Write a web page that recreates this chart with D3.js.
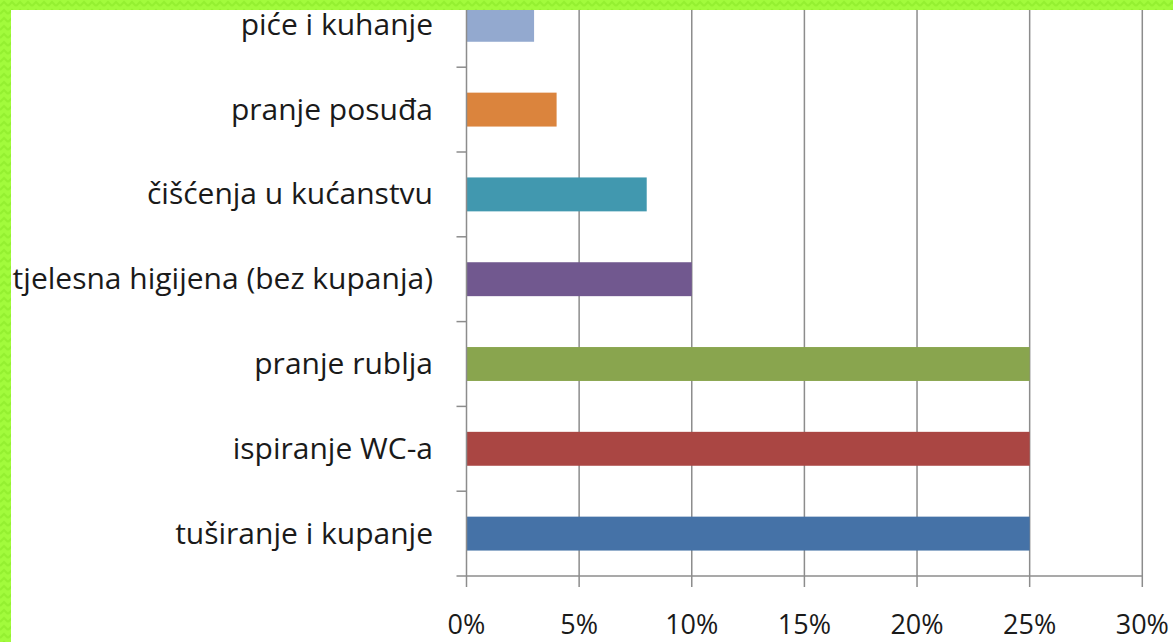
<!DOCTYPE html>
<html><head><meta charset="utf-8">
<script src="https://cdn.jsdelivr.net/npm/d3@7/dist/d3.min.js"></script>
<style>html,body{margin:0;padding:0;background:#fff;overflow:hidden}</style>
</head><body>
<svg id="c" width="1173" height="642"></svg>
<script>
const categories = ["tuširanje i kupanje","ispiranje WC-a","pranje rublja","tjelesna higijena (bez kupanja)","čišćenja u kućanstvu","pranje posuđa","piće i kuhanje"];
const values = [25,25,25,10,8,4,3];
const colors = ["#4572A7","#AA4643","#89A54E","#71588F","#4198AF","#DB843D","#93A9CF"];
const xTicks = [0,5,10,15,20,25,30];
const xTickLabels = ["0%","5%","10%","15%","20%","25%","30%"];

const svg = d3.select("#c");
const x0 = 466.5, x1 = 1142.3, yBottom = 576, step = 84.8;
const x = d3.scaleLinear().domain([0,30]).range([x0,x1]);
const y = d3.scaleBand().domain(categories).range([yBottom, yBottom - step*categories.length]).paddingInner(0.6).paddingOuter(0.3);
const font = "'Open Sans', Lato, sans-serif";
const grid = "#8c8c8c";

// gridlines
svg.append("g").selectAll("line").data(xTicks.slice(1)).join("line")
  .attr("x1", d=>x(d)).attr("x2", d=>x(d)).attr("y1", 0).attr("y2", yBottom)
  .attr("stroke", grid).attr("stroke-width", 1.5);

// bars
svg.append("g").selectAll("rect").data(categories).join("rect")
  .attr("x", x(0)).attr("y", d=>y(d)).attr("height", y.bandwidth())
  .attr("width", (d,i)=>x(values[i]) - x(0))
  .attr("fill", (d,i)=>colors[i]);

// left axis
svg.append("line").attr("x1", x0).attr("x2", x0).attr("y1", 0).attr("y2", yBottom)
  .attr("stroke", grid).attr("stroke-width", 1.5);
const boundaries = categories.map(c => y(c) + y.bandwidth()/2 - step/2);
svg.append("g").selectAll("line").data(boundaries).join("line")
  .attr("x1", x0-10).attr("x2", x0).attr("y1", d=>d).attr("y2", d=>d)
  .attr("stroke", grid).attr("stroke-width", 1.5);

// bottom axis
svg.append("line").attr("x1", x0-10).attr("x2", x1).attr("y1", yBottom).attr("y2", yBottom)
  .attr("stroke", grid).attr("stroke-width", 1.5);
svg.append("g").selectAll("line").data(xTicks).join("line")
  .attr("x1", d=>x(d)).attr("x2", d=>x(d)).attr("y1", yBottom).attr("y2", yBottom+11)
  .attr("stroke", grid).attr("stroke-width", 1.5);

// category labels
svg.append("g").selectAll("text").data(categories).join("text")
  .attr("x", 433).attr("y", d=>y(d)+y.bandwidth()/2 + 10)
  .attr("text-anchor","end").attr("font-family", font).attr("font-size", 30)
  .attr("fill","#1a1a1a").text(d=>d);

// x tick labels
svg.append("g").selectAll("text").data(xTicks).join("text")
  .attr("x", d=>x(d)).attr("y", 634)
  .attr("text-anchor","middle").attr("font-family", font).attr("font-size", 27)
  .attr("fill","#1a1a1a").text((d,i)=>xTickLabels[i]);

// green border
const defs = svg.append("defs");
const p = defs.append("pattern").attr("id","gp").attr("width",8).attr("height",8).attr("patternUnits","userSpaceOnUse");
p.append("rect").attr("width",8).attr("height",8).attr("fill","#a2fb3c");
p.append("path").attr("d","M0,6 L4,2 L8,6").attr("fill","none").attr("stroke","#94f030").attr("stroke-width",2);
svg.append("rect").attr("x",0).attr("y",0).attr("width",1173).attr("height",10).attr("fill","url(#gp)");
svg.append("rect").attr("x",0).attr("y",0).attr("width",11).attr("height",642).attr("fill","url(#gp)");
</script>
</body></html>
